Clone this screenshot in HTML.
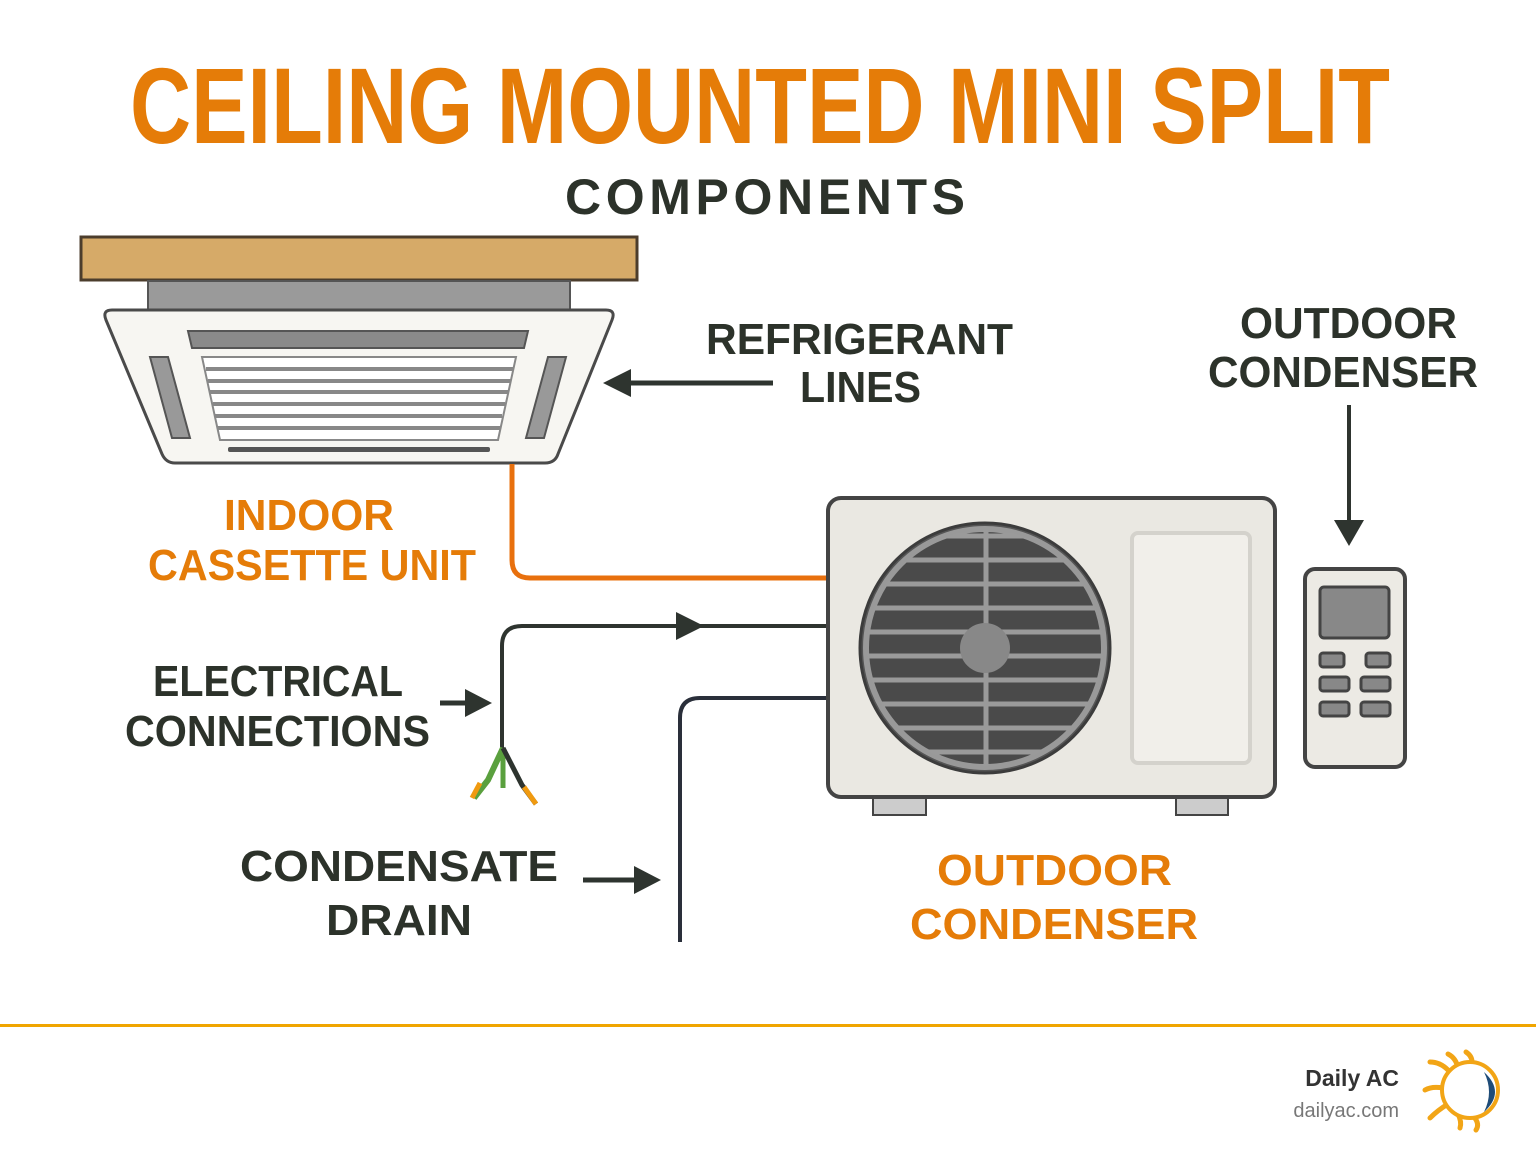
<!DOCTYPE html>
<html><head><meta charset="utf-8"><style>
html,body{margin:0;padding:0;background:#fff;}
svg{display:block;}
text{font-family:"Liberation Sans",sans-serif;font-weight:bold;}
</style></head><body>
<svg width="1536" height="1154" viewBox="0 0 1536 1154" xmlns="http://www.w3.org/2000/svg">
<defs>
<clipPath id="fan"><circle cx="985" cy="648" r="118"/></clipPath>
</defs>
<text x="130" y="143" font-size="108" fill="#e57c08" textLength="1260" lengthAdjust="spacingAndGlyphs">CEILING MOUNTED MINI SPLIT</text>
<text x="565" y="214" font-size="50" fill="#2c322a" textLength="400" lengthAdjust="spacing">COMPONENTS</text>

<rect x="81" y="237" width="556" height="43" fill="#d6aa68" stroke="#4c3d2c" stroke-width="3"/>
<rect x="148" y="281" width="422" height="29" fill="#9a9a9a" stroke="#555" stroke-width="2"/>
<path d="M112 310 L606 310 Q616 310 612 320 L558 454 Q555 463 545 463 L175 463 Q166 463 162 454 L106 320 Q102 310 112 310 Z" fill="#f7f6f2" stroke="#4a4a4a" stroke-width="3"/>
<path d="M188 331 L528 331 L524 348 L192 348 Z" fill="#8a8a8a" stroke="#555" stroke-width="2"/>
<path d="M202 357 L516 357 L498 440 L220 440 Z" fill="#fff" stroke="#888" stroke-width="2"/>
<g stroke="#888" stroke-width="4">
<line x1="206" y1="369" x2="514" y2="369"/><line x1="208" y1="381" x2="511" y2="381"/>
<line x1="210" y1="392" x2="508" y2="392"/><line x1="213" y1="404" x2="505" y2="404"/>
<line x1="215" y1="416" x2="502" y2="416"/><line x1="218" y1="428" x2="500" y2="428"/>
</g>
<path d="M150 357 L168 357 L190 438 L172 438 Z" fill="#999" stroke="#555" stroke-width="2"/>
<path d="M548 357 L566 357 L544 438 L526 438 Z" fill="#999" stroke="#555" stroke-width="2"/>
<rect x="228" y="447" width="262" height="5" rx="2" fill="#555"/>

<path d="M512 464 L512 560 Q512 578 530 578 L827 578" fill="none" stroke="#e8700e" stroke-width="5"/>
<path d="M502 750 L502 646 Q502 626 522 626 L827 626" fill="none" stroke="#2e342f" stroke-width="4"/>
<polygon points="676,612 704,626 676,640" fill="#2e342f"/>
<path d="M503 748 L488 780 L474 798" stroke="#5aa03e" stroke-width="6" fill="none"/>
<path d="M480 783 L472 798" stroke="#f09a10" stroke-width="5"/>
<path d="M503 748 L503 788" stroke="#5aa03e" stroke-width="5"/>
<path d="M503 748 L522 785 L536 804" stroke="#2e342f" stroke-width="5" fill="none"/>
<path d="M524 787 L536 804" stroke="#f09a10" stroke-width="5"/>
<path d="M680 942 L680 718 Q680 698 700 698 L827 698" fill="none" stroke="#2a2f3a" stroke-width="4"/>

<line x1="773" y1="383" x2="625" y2="383" stroke="#2e342f" stroke-width="5"/>
<polygon points="603,383 631,369 631,397" fill="#2e342f"/>
<line x1="440" y1="703" x2="468" y2="703" stroke="#2e342f" stroke-width="5"/>
<polygon points="492,703 465,689 465,717" fill="#2e342f"/>
<line x1="583" y1="880" x2="636" y2="880" stroke="#2e342f" stroke-width="5"/>
<polygon points="661,880 634,866 634,894" fill="#2e342f"/>
<line x1="1349" y1="405" x2="1349" y2="525" stroke="#2e342f" stroke-width="4"/>
<polygon points="1349,546 1334,520 1364,520" fill="#2e342f"/>

<rect x="873" y="797" width="53" height="18" fill="#ccc" stroke="#444" stroke-width="2"/>
<rect x="1176" y="797" width="52" height="18" fill="#ccc" stroke="#444" stroke-width="2"/>
<rect x="828" y="498" width="447" height="299" rx="13" fill="#eae8e2" stroke="#444" stroke-width="4"/>
<rect x="1132" y="533" width="118" height="230" rx="6" fill="#f1efea" stroke="#d4d2cc" stroke-width="4"/>
<circle cx="985" cy="648" r="125" fill="#555" stroke="#3c3c3c" stroke-width="3"/>
<circle cx="985" cy="648" r="119" fill="#4a4a4a" stroke="#999" stroke-width="6"/>
<g clip-path="url(#fan)" stroke="#9a9a9a" stroke-width="5">
<line x1="860" y1="560" x2="1110" y2="560"/><line x1="860" y1="584" x2="1110" y2="584"/>
<line x1="860" y1="608" x2="1110" y2="608"/><line x1="860" y1="632" x2="1110" y2="632"/>
<line x1="860" y1="656" x2="1110" y2="656"/><line x1="860" y1="680" x2="1110" y2="680"/>
<line x1="860" y1="704" x2="1110" y2="704"/><line x1="860" y1="728" x2="1110" y2="728"/>
<line x1="860" y1="752" x2="1110" y2="752"/><line x1="860" y1="536" x2="1110" y2="536"/>
<line x1="986" y1="520" x2="986" y2="780"/>
</g>
<circle cx="985" cy="648" r="25" fill="#888"/>

<rect x="1305" y="569" width="100" height="198" rx="10" fill="#eceae4" stroke="#444" stroke-width="4"/>
<rect x="1320" y="587" width="69" height="51" rx="4" fill="#888" stroke="#444" stroke-width="3"/>
<g fill="#888" stroke="#444" stroke-width="3">
<rect x="1320" y="653" width="24" height="14" rx="3"/><rect x="1366" y="653" width="24" height="14" rx="3"/>
<rect x="1320" y="677" width="29" height="14" rx="3"/><rect x="1361" y="677" width="29" height="14" rx="3"/>
<rect x="1320" y="702" width="29" height="14" rx="3"/><rect x="1361" y="702" width="29" height="14" rx="3"/>
</g>

<g fill="#2c322a" font-size="44" lengthAdjust="spacingAndGlyphs">
<text x="706" y="354" textLength="307" lengthAdjust="spacingAndGlyphs">REFRIGERANT</text>
<text x="800" y="402" textLength="121" lengthAdjust="spacingAndGlyphs">LINES</text>
<text x="1240" y="338" textLength="217" lengthAdjust="spacingAndGlyphs">OUTDOOR</text>
<text x="1208" y="387" textLength="270" lengthAdjust="spacingAndGlyphs">CONDENSER</text>
<text x="153" y="696" textLength="250" lengthAdjust="spacingAndGlyphs">ELECTRICAL</text>
<text x="125" y="746" textLength="305" lengthAdjust="spacingAndGlyphs">CONNECTIONS</text>
<text x="240" y="881" textLength="318" lengthAdjust="spacingAndGlyphs">CONDENSATE</text>
<text x="326" y="935" textLength="146" lengthAdjust="spacingAndGlyphs">DRAIN</text>
</g>
<g fill="#e57c08" font-size="44">
<text x="224" y="530" textLength="170" lengthAdjust="spacingAndGlyphs">INDOOR</text>
<text x="148" y="580" textLength="328" lengthAdjust="spacingAndGlyphs">CASSETTE UNIT</text>
<text x="937" y="885" textLength="235" lengthAdjust="spacingAndGlyphs">OUTDOOR</text>
<text x="910" y="939" textLength="288" lengthAdjust="spacingAndGlyphs">CONDENSER</text>
</g>

<rect x="0" y="1024" width="1536" height="3" fill="#f0a500"/>
<text x="1399" y="1086" font-size="23" fill="#333" text-anchor="end">Daily AC</text>
<text x="1399" y="1117" font-size="20" fill="#777" text-anchor="end" style="font-weight:normal">dailyac.com</text>
<g stroke="#f2a516" stroke-width="5" fill="none" stroke-linecap="round">
<path d="M1448 1070 Q1440 1062 1430 1062"/>
<path d="M1443 1088 Q1432 1086 1425 1090"/>
<path d="M1448 1104 Q1438 1110 1430 1118"/>
<path d="M1458 1068 Q1456 1058 1448 1054"/>
<path d="M1472 1062 Q1472 1056 1466 1052"/>
<path d="M1458 1114 Q1462 1122 1460 1128"/>
<path d="M1474 1117 Q1480 1124 1476 1130"/>
</g>
<circle cx="1470" cy="1090" r="28" fill="#fff" stroke="#f2a516" stroke-width="4"/>
<path d="M1484 1072 Q1506 1092 1484 1112 Q1494 1092 1484 1072 Z" fill="#1f4c78"/>
</svg>
</body></html>
